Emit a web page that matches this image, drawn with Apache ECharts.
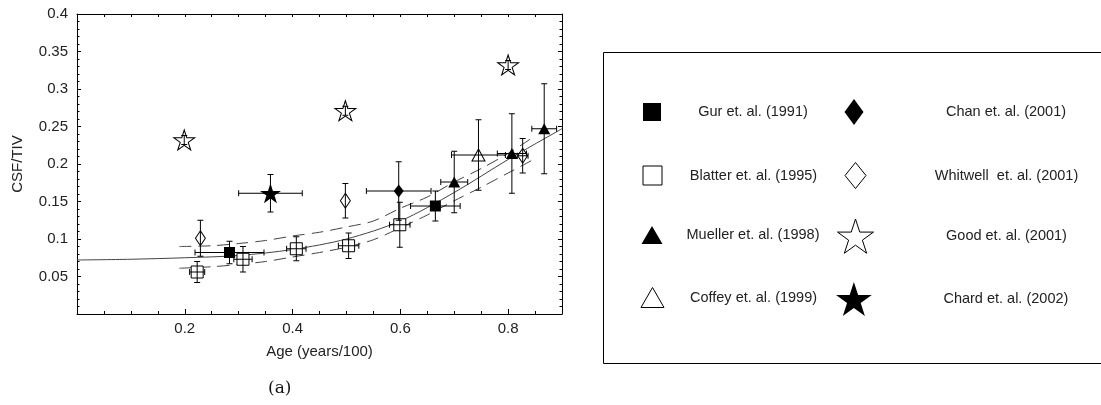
<!DOCTYPE html>
<html>
<head>
<meta charset="utf-8">
<script src="https://cdn.jsdelivr.net/npm/echarts@6/dist/echarts.min.js"></script>
<style>
html,body{margin:0;padding:0;background:#fff;}
#chart{width:1101px;height:405px;}
</style>
</head>
<body>
<div id="chart"></div>
<script>
// ---- data: [age, CSF/TIV, xErr, yErr]
const gurData = [[0.283, 0.082, 0.064, 0.015], [0.665, 0.144, 0.046, 0.020]];
const blatterData = [[0.223, 0.056, 0.014, 0.014], [0.308, 0.073, 0.017, 0.017], [0.407, 0.087, 0.018, 0.016], [0.504, 0.091, 0.019, 0.017], [0.599, 0.119, 0.019, 0.030]];
const muellerData = [[0.700, 0.176, 0.025, 0.041], [0.807, 0.214, 0.027, 0.053], [0.867, 0.247, 0.023, 0.060]];
const coffeyData = [[0.745, 0.212, 0.050, 0.047]];
const chanData = [[0.597, 0.164, 0.060, 0.039]];
const whitwellData = [[0.229, 0.101, 0, 0.024], [0.498, 0.151, 0, 0.023], [0.827, 0.211, 0.010, 0.023]];
const goodData = [[0.199, 0.232, 0, 0.006], [0.498, 0.271, 0, 0.006], [0.800, 0.332, 0, 0.006]];
const chardData = [[0.359, 0.161, 0.059, 0.025]];

// fitted curve and confidence band
const fitX = [0, 0.1, 0.2, 0.3, 0.4, 0.5, 0.6, 0.7, 0.8, 0.9];
const fitY = [0.072, 0.073, 0.075, 0.078, 0.086, 0.100, 0.124, 0.162, 0.206, 0.247];
const upperX = [0.19, 0.25, 0.3, 0.35, 0.4, 0.45, 0.5, 0.55, 0.6, 0.65, 0.7, 0.75, 0.8, 0.845];
const upperY = [0.090, 0.091, 0.094, 0.098, 0.104, 0.109, 0.116, 0.124, 0.141, 0.156, 0.176, 0.194, 0.214, 0.235];
const lowerX = [0.19, 0.25, 0.3, 0.35, 0.4, 0.45, 0.5, 0.55, 0.6, 0.65, 0.7, 0.75, 0.8, 0.85];
const lowerY = [0.061, 0.063, 0.066, 0.070, 0.076, 0.082, 0.089, 0.099, 0.115, 0.132, 0.151, 0.169, 0.188, 0.207];

const xTickLabels = ['0.2', '0.4', '0.6', '0.8'];
const yTickLabels = ['0.05', '0.1', '0.15', '0.2', '0.25', '0.3', '0.35', '0.4'];

const seriesNames = ['Gur et. al. (1991)', 'Blatter et. al. (1995)', 'Mueller et. al. (1998)', 'Coffey et. al. (1999)',
  'Chan et. al. (2001)', 'Whitwell  et. al. (2001)', 'Good et. al. (2001)', 'Chard et. al. (2002)'];

// ---- styling
const FONT = 'Liberation Sans';
const starPath = 'path://M50 0L61.23 34.55L97.55 34.55L68.17 55.9L79.39 90.45L50 69.1L20.61 90.45L31.83 55.9L2.45 34.55L38.77 34.55Z';
const filled = {color: '#000', borderColor: '#000', borderWidth: 0, opacity: 1};
const open = {color: '#fff', borderColor: '#000', borderWidth: 1, opacity: 1};

const markerStyles = [
  {data: gurData, symbol: 'rect', size: [11, 11], style: filled},
  {data: blatterData, symbol: 'rect', size: [12, 12], style: open},
  {data: muellerData, symbol: 'triangle', size: [12, 11], style: filled},
  {data: coffeyData, symbol: 'triangle', size: [13, 12], style: open},
  {data: chanData, symbol: 'diamond', size: [10, 13], style: filled},
  {data: whitwellData, symbol: 'diamond', size: [10, 15], style: open},
  {data: goodData, symbol: starPath, size: [21, 20], style: open},
  {data: chardData, symbol: starPath, size: [21, 20], style: filled}
];

const legendLayout = [
  {icon: 'rect', w: 18, h: 18, cx: 652, cy: 112, tx: 753},
  {icon: 'rect', w: 19, h: 19, cx: 652, cy: 175, tx: 753},
  {icon: 'triangle', w: 21, h: 18, cx: 652, cy: 235, tx: 753},
  {icon: 'triangle', w: 23, h: 20, cx: 652, cy: 297, tx: 753},
  {icon: 'diamond', w: 19, h: 26, cx: 854, cy: 112, tx: 1006},
  {icon: 'diamond', w: 21, h: 26, cx: 855, cy: 175, tx: 1006},
  {icon: starPath, w: 36, h: 35, cx: 855, cy: 236, tx: 1006},
  {icon: starPath, w: 36, h: 34, cx: 854, cy: 299, tx: 1006}
];

const LEGEND_FONT_SIZE = 14.5;
const canvas = document.createElement('canvas');
const ctx = canvas.getContext('2d');
ctx.font = LEGEND_FONT_SIZE + 'px "' + FONT + '"';

const scatterSeries = markerStyles.map((m, i) => ({
  name: seriesNames[i],
  type: 'scatter',
  symbol: m.symbol,
  symbolSize: m.size,
  itemStyle: m.style,
  data: m.data.map(d => [d[0], d[1]]),
  z: 3
}));

const errData = [].concat(gurData, blatterData, muellerData, coffeyData, chanData, whitwellData, goodData, chardData);

const errSeries = {
  type: 'custom',
  data: errData,
  encode: {x: 0, y: 1},
  z: 4,
  silent: true,
  renderItem: function (params, api) {
    const x = api.value(0), y = api.value(1), xe = api.value(2), ye = api.value(3);
    const children = [];
    const cap = 3;
    const st = {stroke: '#000', lineWidth: 1};
    if (ye > 0) {
      const t = api.coord([x, y + ye]), b = api.coord([x, y - ye]);
      children.push({type: 'line', shape: {x1: t[0], y1: t[1], x2: b[0], y2: b[1]}, style: st});
      children.push({type: 'line', shape: {x1: t[0] - cap, y1: t[1], x2: t[0] + cap, y2: t[1]}, style: st});
      children.push({type: 'line', shape: {x1: b[0] - cap, y1: b[1], x2: b[0] + cap, y2: b[1]}, style: st});
    }
    if (xe > 0) {
      const l = api.coord([x - xe, y]), r = api.coord([x + xe, y]);
      children.push({type: 'line', shape: {x1: l[0], y1: l[1], x2: r[0], y2: r[1]}, style: st});
      children.push({type: 'line', shape: {x1: l[0], y1: l[1] - cap, x2: l[0], y2: l[1] + cap}, style: st});
      children.push({type: 'line', shape: {x1: r[0], y1: r[1] - cap, x2: r[0], y2: r[1] + cap}, style: st});
    }
    return {type: 'group', children: children};
  }
};

const lineColor = '#444';
const curveSeries = [
  {type: 'line', data: fitX.map((x, i) => [x, fitY[i]]), smooth: 0.3, symbol: 'none',
   lineStyle: {color: lineColor, width: 1}, z: 2, silent: true},
  {type: 'line', data: upperX.map((x, i) => [x, upperY[i]]), smooth: 0.3, symbol: 'none',
   lineStyle: {color: lineColor, width: 1, type: [12, 7]}, z: 2, silent: true},
  {type: 'line', data: lowerX.map((x, i) => [x, lowerY[i]]), smooth: 0.3, symbol: 'none',
   lineStyle: {color: lineColor, width: 1, type: [12, 7]}, z: 2, silent: true}
];

const legends = legendLayout.map((L, i) => {
  const textW = ctx.measureText(seriesNames[i]).width;
  const left = L.cx - L.w / 2;
  const textStart = L.tx - textW / 2;
  const pad = Math.max(0, textStart - (left + L.w + 5));
  const st = markerStyles[i].style;
  return {
    left: left, top: L.cy - L.h / 2, padding: 0, orient: 'horizontal',
    itemWidth: L.w, itemHeight: L.h, selectedMode: false,
    textStyle: {fontFamily: FONT, fontSize: LEGEND_FONT_SIZE, color: '#222', padding: [0, 0, 0, pad]},
    data: [{name: seriesNames[i], icon: L.icon,
            itemStyle: {color: st.color, borderColor: '#000', borderWidth: st.borderWidth, opacity: 1}}]
  };
});

const labelFmt = (list) => function (v) {
  const s = String(Math.round(v * 1000) / 1000);
  return list.indexOf(s) >= 0 ? s : '';
};

const axisLine = {show: true, onZero: false, lineStyle: {color: '#000', width: 1}};
const option = {
  animation: false,
  backgroundColor: '#fff',
  grid: {left: 77, right: 539, top: 14, bottom: 91, containLabel: false},
  xAxis: [
    {type: 'value', min: 0, max: 0.9, interval: 0.05, position: 'bottom',
     axisLine: axisLine, splitLine: {show: false},
     axisTick: {show: true, inside: true, length: 3, lineStyle: {color: '#000'}},
     axisLabel: {margin: 7, fontFamily: FONT, fontSize: 15, color: '#222', formatter: labelFmt(xTickLabels), hideOverlap: false},
     name: 'Age (years/100)', nameLocation: 'middle', nameGap: 30,
     nameTextStyle: {fontFamily: FONT, fontSize: 15, color: '#222'}},
    {type: 'value', min: 0, max: 0.9, interval: 0.05, position: 'top',
     axisLine: axisLine, splitLine: {show: false},
     axisTick: {show: true, inside: true, length: 3, lineStyle: {color: '#000'}},
     axisLabel: {show: false}},
    {type: 'value', min: 0, max: 0.9, interval: 0.2, position: 'bottom',
     axisLine: {show: false, onZero: false}, splitLine: {show: false},
     axisTick: {show: true, inside: true, length: 5, lineStyle: {color: '#000'}},
     axisLabel: {show: false}}
  ],
  yAxis: [
    {type: 'value', min: 0, max: 0.4, interval: 0.05, position: 'left',
     axisLine: axisLine, splitLine: {show: false},
     axisTick: {show: true, inside: true, length: 4, lineStyle: {color: '#000'}},
     minorTick: {show: true, splitNumber: 5, length: 2.5, lineStyle: {color: '#000'}},
     axisLabel: {margin: 9, fontFamily: FONT, fontSize: 15, color: '#222', formatter: labelFmt(yTickLabels)},
     name: 'CSF/TIV', nameLocation: 'middle', nameGap: 52, nameRotate: 90,
     nameTextStyle: {fontFamily: FONT, fontSize: 15, color: '#222'}},
    {type: 'value', min: 0, max: 0.4, interval: 0.05, position: 'right',
     axisLine: axisLine, splitLine: {show: false},
     axisTick: {show: true, inside: true, length: 4, lineStyle: {color: '#000'}},
     minorTick: {show: true, splitNumber: 5, length: 2.5, lineStyle: {color: '#000'}},
     axisLabel: {show: false}}
  ],
  legend: legends,
  series: curveSeries.concat(scatterSeries, [errSeries]),
  graphic: [
    {type: 'rect', left: 601, top: 50, shape: {width: 520, height: 311},
     style: {fill: 'none', stroke: '#000', lineWidth: 1}, silent: true, z: -1},
    {type: 'text', left: 268, top: 380,
     style: {text: '(a)', font: '17px "DejaVu Serif"', fill: '#111'}}
  ]
};

const chart = echarts.init(document.getElementById('chart'), null, {renderer: 'canvas'});
chart.setOption(option);
</script>
</body>
</html>
